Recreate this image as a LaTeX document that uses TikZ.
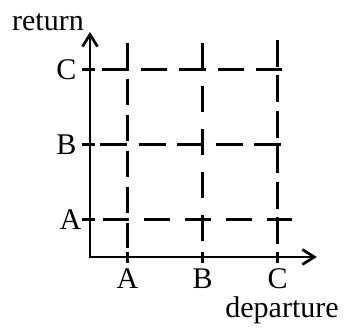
\documentclass[tikz,border=0pt]{standalone}
\usepackage{fontspec}
\setmainfont{Liberation Serif}
\usetikzlibrary{arrows.meta}
\tikzset{
  axisln/.style={line width=1.35pt},
  gridln/.style={line width=1.15pt},
  lab/.style={inner sep=0pt},
}

\begin{document}
\begin{tikzpicture}[x=18.75pt,y=18.75pt,>={Straight Barb[length=6pt,width=7.5pt]},font=\fontsize{15}{17}\selectfont]
\useasboundingbox (-2.4,-1.867) rectangle (6.773,6.853);
\coordinate (O) at (0,0);
\coordinate (xend) at (6.05,0);
\coordinate (yend) at (0,6);
\draw[axisln,<->] (yend) -- (O) -- (xend);
% dashed grid lines
\draw[gridln,dash pattern=on 13.25pt off 6pt] (0.32,5) -- (5.12,5);
\draw[gridln,dash pattern=on 13.5pt off 5.75pt] (0.27,3) -- (5.12,3);
\draw[gridln,dash pattern=on 13pt off 7.5pt] (0.35,1) -- (5.39,1);
\draw[gridln,dash pattern=on 13.25pt off 4.75pt] (1,5.71) -- (1,0.24);
\draw[gridln,dash pattern=on 13pt off 8.5pt] (3,5.71) -- (3,0);
\draw[gridln,dash pattern=on 13.5pt off 4.25pt] (5,5.79) -- (5,0.33);
% ticks and labels
\foreach \t/\l/\lx in {1/A/-0.22,3/B/-0.35,5/C/-0.35}{
  \draw[axisln] (\t,0.133) -- (\t,-0.16);
  \draw[axisln] (-0.213,\t) -- (0.133,\t);
  \node[lab,anchor=base] (x\l) at (\t,-0.84) {\l};
  \node[lab,anchor=east] (y\l) at (\lx,\t) {\l};
}
\node[lab,anchor=base] (ret) at (-1.12,6.027) {return};
\node[lab,anchor=base] (dep) at (5.12,-1.62) {departure};
\end{tikzpicture}
\end{document}
